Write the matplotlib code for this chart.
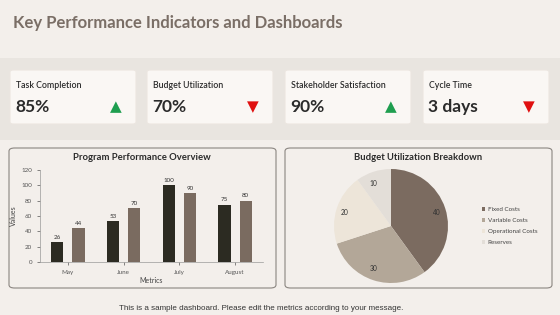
import matplotlib.pyplot as plt
from matplotlib.patches import FancyBboxPatch, Rectangle
import numpy as np

W, H = 560, 315

kpi_labels = ['Task Completion', 'Budget Utilization', 'Stakeholder Satisfaction', 'Cycle Time']
kpi_values = ['85%', '70%', '90%', '3 days']
kpi_up = [True, False, True, False]

months = ['May', 'June', 'July', 'August']
series_a = [26, 53, 100, 75]
series_b = [44, 70, 90, 80]

cost_labels = ['Fixed Costs', 'Variable Costs', 'Operational Costs', 'Reserves']
cost_values = [40, 30, 20, 10]

FONT = ['Lato', 'DejaVu Sans']
plt.rcParams['font.family'] = FONT


def fx(x):
    return x / W


def fy(y):
    return 1 - y / H


fig = plt.figure(figsize=(W / 100, H / 100), dpi=100)
fig.patch.set_facecolor('#f3efeb')

# background band behind KPI cards
fig.add_artist(Rectangle((0, fy(140)), 1, (140 - 58) / H, transform=fig.transFigure,
                         facecolor='#e9e5e0', edgecolor='none', zorder=0))

fig.text(fx(13), fy(23), 'Key Performance Indicators and Dashboards', fontsize=12,
         fontweight='bold', color='#7a6e66', va='center', ha='left')

card_x = [10, 147, 285, 423]
card_w = 126
for i, (lab, val, up) in enumerate(zip(kpi_labels, kpi_values, kpi_up)):
    x0 = card_x[i]
    fig.add_artist(FancyBboxPatch((fx(x0), fy(124)), fx(card_w), (124 - 70) / H,
                                  boxstyle='round,pad=0,rounding_size=0.006',
                                  transform=fig.transFigure, facecolor='#faf7f4',
                                  edgecolor='#ece6e0', linewidth=0.8, zorder=1))
    fig.text(fx(x0 + 6), fy(86), lab, fontsize=6.3, color='#2b2b2b', va='center',
             fontweight='semibold')
    fig.text(fx(x0 + 5), fy(107), val, fontsize=12.5, fontweight='bold', color='#2b2b2b',
             va='center')
    fig.text(fx(x0 + 106), fy(107), '\u25B2' if up else '\u25BC', fontsize=11,
             color='#1e9e4f' if up else '#e01010', va='center', ha='center',
             family=['DejaVu Sans'])

# panel frames
for px0 in (9, 285):
    fig.add_artist(FancyBboxPatch((fx(px0), fy(288)), fx(267), (288 - 148) / H,
                                  boxstyle='round,pad=0,rounding_size=0.01',
                                  transform=fig.transFigure, facecolor='#f3efeb',
                                  edgecolor='#8a8580', linewidth=0.8, zorder=1))

# bar chart
ax = fig.add_axes([fx(40), fy(262), fx(223), (262 - 170) / H], zorder=3)
ax.set_facecolor('none')
x = np.arange(len(months))
bw = 0.22
b1 = ax.bar(x - 0.19, series_a, bw, color='#2c2b22')
b2 = ax.bar(x + 0.19, series_b, bw, color='#7a6b60')
for bars in (b1, b2):
    for r in bars:
        ax.text(r.get_x() + r.get_width() / 2, r.get_height() + 3, f'{r.get_height():.0f}',
                ha='center', va='bottom', fontsize=4.5, color='#333333')
ax.set_xlim(-0.5, 3.5)
ax.set_ylim(0, 120)
ax.set_yticks(range(0, 121, 20))
ax.set_xticks(x)
ax.set_xticklabels(months)
ax.tick_params(labelsize=4.5, colors='#555555', length=2, width=0.5)
for s in ('top', 'right'):
    ax.spines[s].set_visible(False)
for s in ('left', 'bottom'):
    ax.spines[s].set_color('#999999')
    ax.spines[s].set_linewidth(0.5)
ax.set_xlabel('Metrics', fontsize=5, color='#444444', labelpad=2)
ax.set_ylabel('Values', fontsize=5, color='#444444', labelpad=3)
fig.text(fx(142), fy(157), 'Program Performance Overview', fontsize=6.8, fontweight='bold',
         color='#2b2b2b', ha='center', va='center')

# pie chart
r = 57
pax = fig.add_axes([fx(391 - r), fy(226 + r), fx(2 * r), 2 * r / H], zorder=3)
wedges, texts = pax.pie(cost_values, labels=[str(v) for v in cost_values], startangle=90,
                        counterclock=False, labeldistance=0.78,
                        colors=['#7b6b60', '#b3a798', '#ede5d9', '#e3ded8'],
                        textprops={'fontsize': 4.8, 'color': '#333333'})
pax.set_aspect('equal')
pax.set_xlim(-1, 1)
pax.set_ylim(-1, 1)
leg = pax.legend(wedges, cost_labels, loc='center left', bbox_to_anchor=(fx(476), fy(226)),
                 bbox_transform=fig.transFigure, frameon=False, fontsize=4.5,
                 handlelength=0.6, handleheight=0.6, handletextpad=0.4, labelspacing=0.9)
for t in leg.get_texts():
    t.set_color('#444444')
fig.text(fx(418), fy(157), 'Budget Utilization Breakdown', fontsize=6.8, fontweight='bold',
         color='#2b2b2b', ha='center', va='center')

fig.text(fx(261), fy(308), 'This is a sample dashboard. Please edit the metrics according to your message.',
         fontsize=5.8, color='#333333', ha='center', va='center', family=['Liberation Sans'])

fig.savefig('out.png', dpi=100, facecolor=fig.get_facecolor())
